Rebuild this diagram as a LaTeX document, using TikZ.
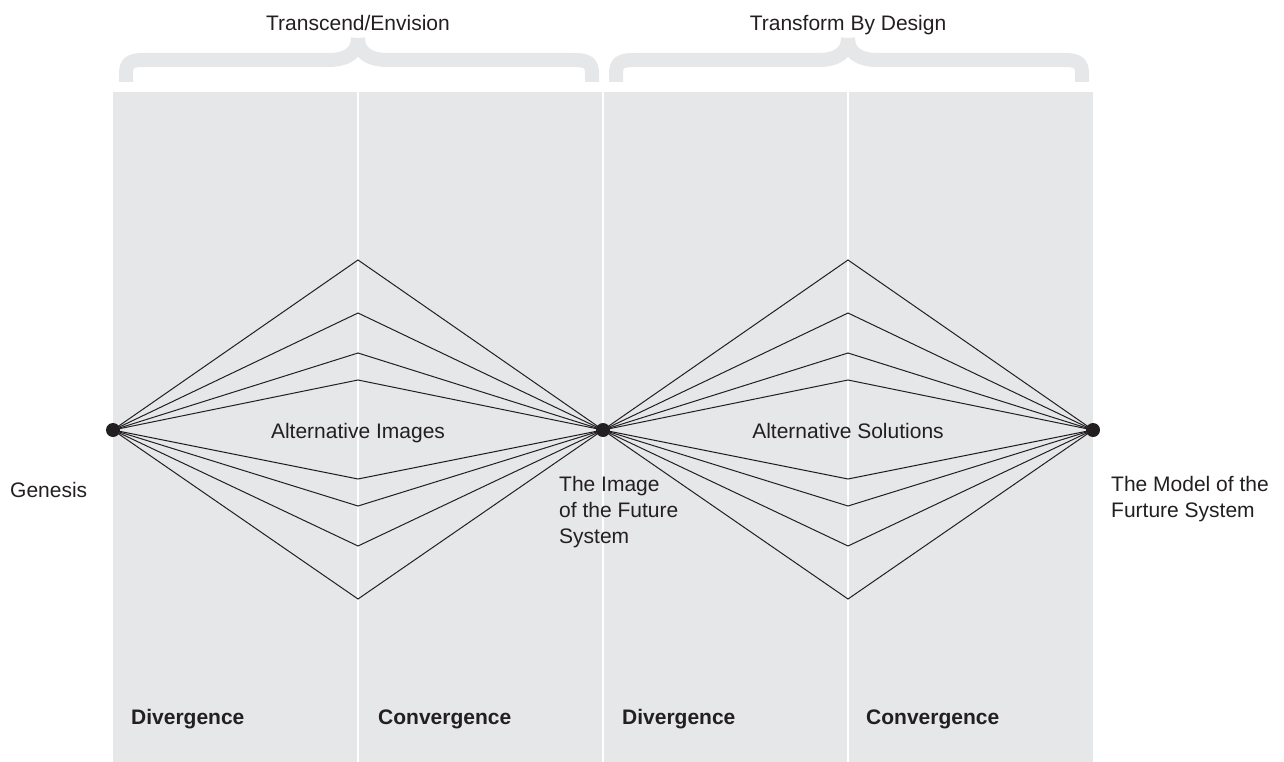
\documentclass[tikz,border=0pt]{standalone}
\usepackage{fontspec}
\setmainfont{Liberation Sans}
\definecolor{panel}{HTML}{E6E7E9}
\definecolor{ink}{HTML}{231F20}
\tikzset{
  lbl/.style={inner sep=0pt, text=ink, font=\fontsize{21}{26}\selectfont},
  blbl/.style={inner sep=0pt, text=ink, font=\fontsize{21}{26}\selectfont\bfseries},
  dot/.style={circle, fill=ink, inner sep=0pt, minimum size=14pt},
  ray/.style={ink, line width=1pt},
  divider/.style={white, line width=2pt},
  brace/.style={panel, line width=14pt, line cap=butt}
}
\begin{document}
\begin{tikzpicture}[x=1pt,y=-1pt]
\useasboundingbox (0,0) rectangle (1284,762);
% panel
\fill[panel] (113,92) rectangle (1093,762);
\draw[divider] (358,92) -- (358,762);
\draw[divider] (603,92) -- (603,762);
\draw[divider] (848,92) -- (848,762);
% braces
\foreach \a/\t/\b in {126/358/592, 616/848/1082}{
  \draw[brace] (\a,82) -- (\a,74) .. controls (\a,63) and (\a+4,60) .. (\a+18,60)
     -- (\t-30,60) .. controls (\t-10,60) and (\t,52) .. (\t,38);
  \draw[brace] (\b,82) -- (\b,74) .. controls (\b,63) and (\b-4,60) .. (\b-18,60)
     -- (\t+30,60) .. controls (\t+10,60) and (\t,52) .. (\t,38);
}
\node[lbl, anchor=base] (t1) at (358,31) {Transcend/Envision};
\node[lbl, anchor=base] (t2) at (848,31) {Transform By Design};
% dot centres and vertices
\coordinate (G) at (113,430);
\coordinate (I) at (603,430);
\coordinate (M) at (1093,430);
\foreach \x/\n in {358/a, 848/b}{
  \coordinate (\n1) at (\x,260);
  \coordinate (\n2) at (\x,313);
  \coordinate (\n3) at (\x,353);
  \coordinate (\n4) at (\x,380);
  \coordinate (\n5) at (\x,479);
  \coordinate (\n6) at (\x,506);
  \coordinate (\n7) at (\x,546);
  \coordinate (\n8) at (\x,599);
}
\foreach \i in {1,...,8}{
  \draw[ray] (G) -- (a\i) -- (I);
  \draw[ray] (I) -- (b\i) -- (M);
}
\node[dot] (gen) at (G) {};
\node[dot] (img) at (I) {};
\node[dot] (mdl) at (M) {};
% labels
\node[lbl, anchor=base] (ai) at (358,438) {Alternative Images};
\node[lbl, anchor=base] (as) at (848,438) {Alternative Solutions};
\node[lbl, anchor=base west] (genl) at (10,497) {Genesis};
\node[lbl, anchor=north west, align=left] (imgl) at (559,476) {The Image\\of the Future\\System};
\node[lbl, anchor=north west, align=left] (mdll) at (1111,476) {The Model of the\\Furture System};
\node[blbl, anchor=base west] (d1) at (131,724) {Divergence};
\node[blbl, anchor=base west] (c1) at (378,724) {Convergence};
\node[blbl, anchor=base west] (d2) at (622,724) {Divergence};
\node[blbl, anchor=base west] (c2) at (866,724) {Convergence};
\end{tikzpicture}
\end{document}
